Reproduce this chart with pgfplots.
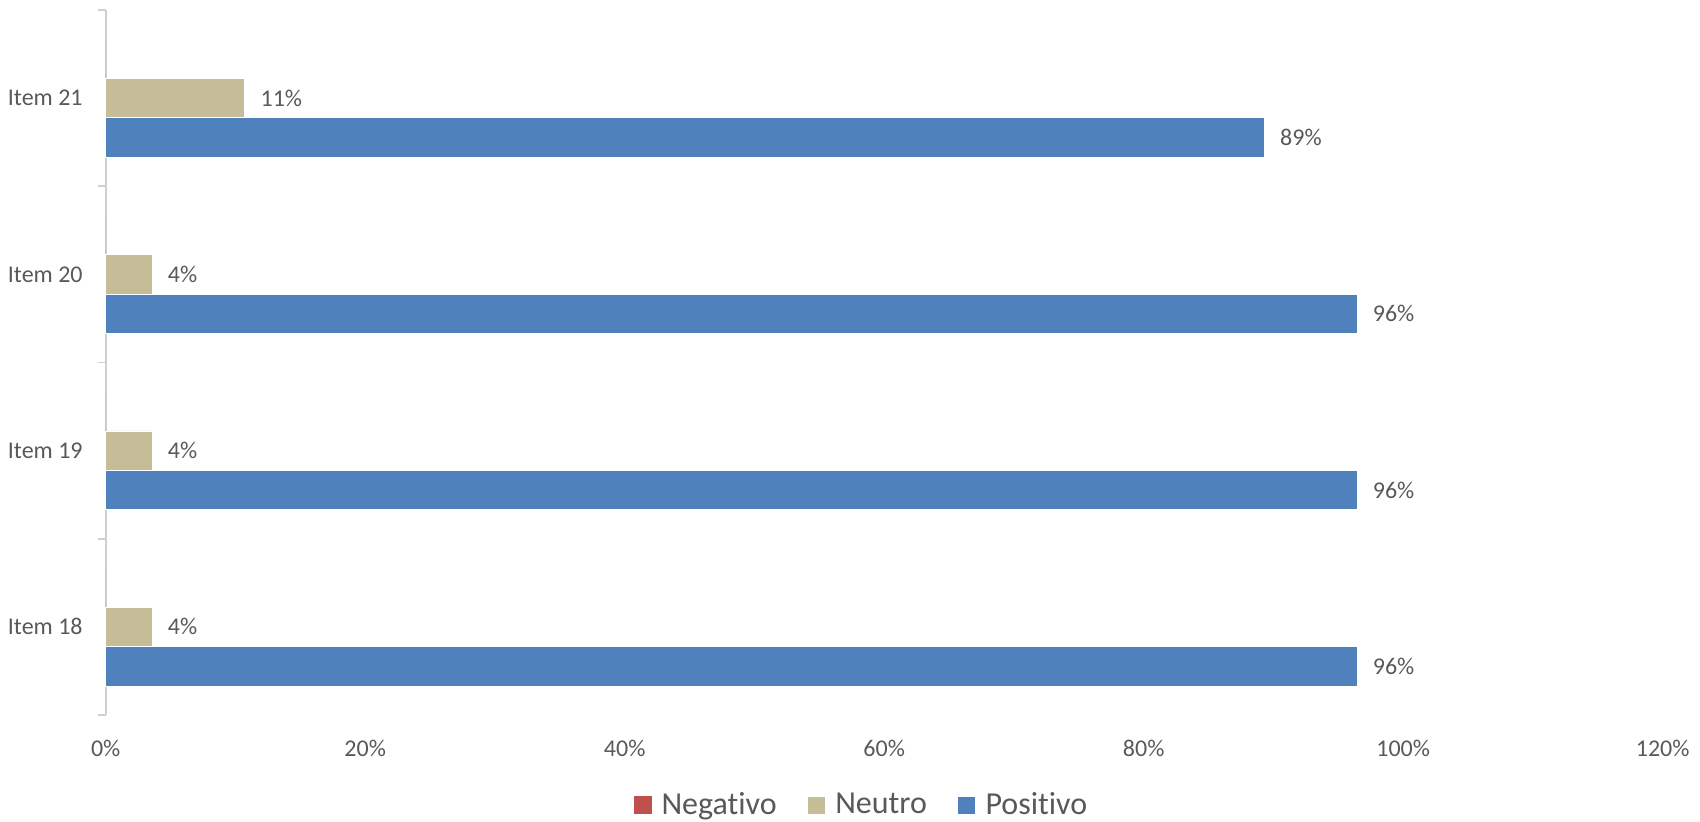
\documentclass[border=0pt]{standalone}
\usepackage{pgfplots}
\pgfplotsset{compat=1.18}
\usepackage{fontspec}
\setmainfont{Carlito}[Ligatures=CommonOff]
\definecolor{cneg}{HTML}{C0504D}
\definecolor{cneu}{HTML}{C4BD97}
\definecolor{cpos}{HTML}{4F81BD}
\definecolor{ctxt}{HTML}{595959}
\definecolor{cax}{HTML}{D0D0D0}
\begin{document}
\begin{tikzpicture}
\useasboundingbox (0,0) rectangle (850pt,410.5pt);
\begin{axis}[
  at={(52.85pt,53pt)}, anchor=south west,
  scale only axis, width=778.5pt, height=352.5pt,
  xbar, bar width=0.223,
  xmin=0, xmax=120, ymin=-0.5, ymax=3.5,
  xtick={0,20,...,120},
  xticklabel={\pgfmathprintnumber{\tick}\%},
  /pgf/number format/assume math mode=true,
  ytick={0,1,2,3},
  yticklabels={Item 18,Item 19,Item 20,Item 21},
  minor ytick={-0.5,0.5,1.5,2.5,3.5},
  major tick length=0pt,
  minor tick length=3.8pt,
  tick align=outside,
  minor tick style={cax, line width=0.9pt},
  axis x line*=bottom,
  x axis line style={draw=none},
  axis y line*=left,
  y axis line style={cax, line width=1pt, -},
  ticklabel style={font=\fontsize{12}{14}\selectfont, text=ctxt},
  xticklabel style={yshift=-9pt},
  yticklabel style={xshift=-8pt},
  nodes near coords style={font=\fontsize{12}{14}\selectfont, text=ctxt, anchor=west, xshift=4.5pt},
  legend style={at={(0.486,-0.1277)}, anchor=center, draw=none, legend columns=-1,
    font=\fontsize{16}{19}\selectfont, text=ctxt,
    /tikz/every odd column/.append style={column sep=3pt},
    /tikz/every even column/.append style={column sep=13pt}},
  legend image code/.code={\fill[#1] (0pt,-4.5pt) rectangle (9pt,4.5pt);},
  clip=false,
]
\addplot[fill=cneg, draw=none, bar shift=0.223] coordinates {(0,0) (0,1) (0,2) (0,3)};
\addplot[fill=cneu, draw=white, line width=0.3pt, bar shift=0,
  nodes near coords={\pgfmathprintnumber[fixed,precision=0]{\pgfplotspointmeta}\%}]
  coordinates {(3.57,0) (3.57,1) (3.57,2) (10.71,3)};
\addplot[fill=cpos, draw=white, line width=0.3pt, bar shift=-0.223,
  nodes near coords={\pgfmathprintnumber[fixed,precision=0]{\pgfplotspointmeta}\%}]
  coordinates {(96.43,0) (96.43,1) (96.43,2) (89.29,3)};
\legend{Negativo,Neutro,Positivo}
\end{axis}
\end{tikzpicture}
\end{document}
